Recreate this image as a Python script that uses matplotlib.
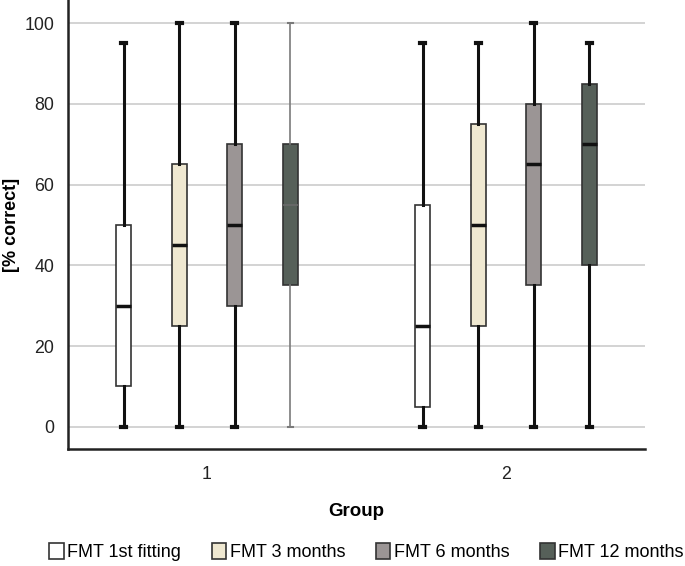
import numpy as np
import matplotlib.pyplot as plt
from matplotlib.patches import Patch

plt.rcParams['font.family'] = ['Liberation Sans', 'DejaVu Sans']

groups = ['1', '2']
series = ['FMT 1st fitting', 'FMT 3 months', 'FMT 6 months', 'FMT 12 months']
colors = ['#ffffff', '#efe8d1', '#9b9595', '#566059']

# min, q1, median, q3, max per group, per series
whislo = [[0, 0, 0, 0], [0, 0, 0, 0]]
q1 = [[10, 25, 30, 35], [5, 25, 35, 40]]
med = [[30, 45, 50, 55], [25, 50, 65, 70]]
q3 = [[50, 65, 70, 70], [55, 75, 80, 85]]
whishi = [[95, 100, 100, 100], [95, 95, 100, 95]]

fig = plt.figure(figsize=(6.85, 5.66), dpi=100)
ax = fig.add_axes([0.0993, 0.2067, 0.8423, 0.7933])

step = 0.1856
offsets = (np.arange(len(series)) - 1.5) * step

for g in range(len(groups)):
    for s in range(len(series)):
        st = [dict(whislo=whislo[g][s], q1=q1[g][s], med=med[g][s],
                   q3=q3[g][s], whishi=whishi[g][s], fliers=[])]
        thin = (g == 0 and s == 3)
        wcol = '#7a7a7a' if thin else '#111111'
        wlw = 1.2 if thin else 2.2
        ax.bxp(st, positions=[g + offsets[s]], widths=0.05, patch_artist=True,
               boxprops=dict(facecolor=colors[s], edgecolor='#333333', linewidth=1.2),
               medianprops=dict(color='#6a6a6a' if thin else '#111111',
                                linewidth=1.2 if thin else 2.5),
               whiskerprops=dict(color=wcol, linewidth=wlw),
               capprops=dict(color=wcol, linewidth=3 if not thin else 1.5),
               capwidths=0.018, manage_ticks=False, zorder=3)

ax.set_xlim(-0.465, 1.465)
ax.set_ylim(-5.5, 105.7)
ax.set_yticks([0, 20, 40, 60, 80, 100])
ax.yaxis.grid(True, color='#cccccc', linewidth=1.2, zorder=0)
ax.set_axisbelow(True)
ax.set_xticks([0, 1])
ax.set_xticklabels(groups)
ax.tick_params(axis='both', length=0, labelsize=12.8, colors='#222222')
ax.tick_params(axis='y', pad=10)
ax.tick_params(axis='x', pad=12)
for sp in ['top', 'right']:
    ax.spines[sp].set_visible(False)
for sp in ['left', 'bottom']:
    ax.spines[sp].set_linewidth(1.8)
    ax.spines[sp].set_color('#222222')

ax.set_ylabel('[% correct]', fontsize=13, fontweight='bold')
ax.yaxis.set_label_coords(-0.083, 0.5)
ax.set_xlabel('Group', fontsize=13.5, fontweight='bold')
ax.xaxis.set_label_coords(0.5, -0.12)

handles = [Patch(facecolor=c, edgecolor='#333333', linewidth=1.2) for c in colors]
fig.legend(handles, series, loc='center', bbox_to_anchor=(0.535, 0.025), ncol=4,
           frameon=False, fontsize=13, handlelength=0.8, handleheight=1.0,
           handletextpad=0.2, columnspacing=1.7)

fig.savefig('out.png', dpi=100)
